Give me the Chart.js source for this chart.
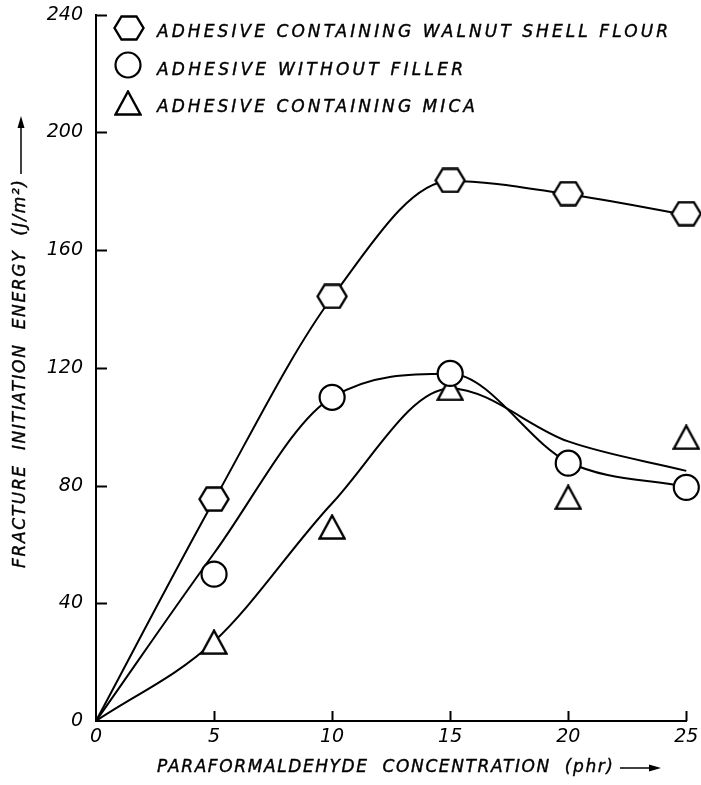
<!DOCTYPE html>
<html>
<head>
<meta charset="utf-8">
<script src="https://cdn.jsdelivr.net/npm/chart.js@4.4.0/dist/chart.umd.min.js"></script>
<style>
  html, body { margin: 0; padding: 0; background: #fff; }
</style>
</head>
<body>
<canvas id="chart" width="701" height="785"></canvas>
<script>
// measured points (phr vs J/m^2)
const concentration = [5, 10, 15, 20, 25];
const walnutShell = [75.4, 144.3, 183.7, 179.2, 172.4];
const noFiller = [49.9, 110, 118.1, 87.6, 79.4];
const mica = [26.8, 65.9, 113, 76, 96.4];

// hand-drawn fit curves at each concentration
const curveX = [0, 5, 10, 15, 20, 25];
const walnutCurve = [0, 75, 144, 183.5, 179, 172];
const noFillerCurve = [0, 57, 110, 118, 88, 79.5];
const micaCurve = [0, 27, 74, 113, 95, 85];

const xTicks = [0, 5, 10, 15, 20, 25];
const yTicks = [0, 40, 80, 120, 160, 200, 240];
const legendLabels = [
    'ADHESIVE CONTAINING WALNUT SHELL FLOUR',
    'ADHESIVE WITHOUT FILLER',
    'ADHESIVE CONTAINING MICA'
];
const xTitle = 'PARAFORMALDEHYDE  CONCENTRATION  (phr)';
const yTitle = 'FRACTURE  INITIATION  ENERGY  (J/m\u00B2)';

const FONT = '"DejaVu Sans", sans-serif';

const pairs = (xs, ys) => xs.map((x, i) => ({ x: x, y: ys[i] }));

// marker images
function makeHexagon() {
    const c = document.createElement('canvas');
    c.width = 32; c.height = 26;
    const g = c.getContext('2d');
    g.beginPath();
    g.moveTo(1.5, 13);
    g.lineTo(8.5, 1.5);
    g.lineTo(23.5, 1.5);
    g.lineTo(30.5, 13);
    g.lineTo(23.5, 24.5);
    g.lineTo(8.5, 24.5);
    g.closePath();
    g.fillStyle = '#fff';
    g.fill();
    g.lineWidth = 2.4;
    g.strokeStyle = '#000';
    g.stroke();
    return c;
}

function makeTriangle() {
    const c = document.createElement('canvas');
    c.width = 28; c.height = 26;
    const g = c.getContext('2d');
    g.beginPath();
    g.moveTo(14, 1.5);
    g.lineTo(26.5, 24.5);
    g.lineTo(1.5, 24.5);
    g.closePath();
    g.fillStyle = '#fff';
    g.fill();
    g.lineWidth = 2.4;
    g.strokeStyle = '#000';
    g.stroke();
    return c;
}

const hexImg = makeHexagon();
const triImg = makeTriangle();

function curveSet(data) {
    return {
        type: 'scatter',
        data: data,
        showLine: true,
        borderColor: '#000',
        borderWidth: 2,
        pointRadius: 0,
        cubicInterpolationMode: 'monotone',
        fill: false,
        clip: false,
        order: 2
    };
}

function pointSet(label, data, style) {
    return {
        type: 'scatter',
        label: label,
        data: data,
        showLine: false,
        pointStyle: style,
        pointRadius: 12.5,
        pointBackgroundColor: '#fff',
        pointBorderColor: '#000',
        pointBorderWidth: 2.2,
        clip: false,
        order: 1
    };
}

function spacedText(ctx, text, x, y, width) {
    ctx.letterSpacing = '0px';
    const w = ctx.measureText(text).width;
    const sp = (width - w) / (text.length - 1);
    ctx.letterSpacing = sp + 'px';
    ctx.fillText(text, x, y);
    ctx.lineWidth = 0.4;
    ctx.strokeText(text, x, y);
    ctx.letterSpacing = '0px';
}

function arrow(ctx, x0, x1, y) {
    ctx.beginPath();
    ctx.moveTo(x0, y);
    ctx.lineTo(x1 - 8, y);
    ctx.lineWidth = 1.5;
    ctx.stroke();
    ctx.beginPath();
    ctx.moveTo(x1, y);
    ctx.lineTo(x1 - 12, y - 3.5);
    ctx.lineTo(x1 - 12, y + 3.5);
    ctx.closePath();
    ctx.fill();
}

const decorPlugin = {
    id: 'decor',
    afterDraw(chart) {
        const ctx = chart.ctx;
        const xs = chart.scales.x;
        const ys = chart.scales.y;
        ctx.save();
        ctx.strokeStyle = '#000';
        ctx.fillStyle = '#000';
        ctx.lineWidth = 2;

        // inward tick marks
        yTicks.forEach(v => {
            if (v === 0) return;
            const py = Math.round(ys.getPixelForValue(v)) + 0.5;
            ctx.beginPath();
            ctx.moveTo(xs.left, py);
            ctx.lineTo(xs.left + 11, py);
            ctx.stroke();
        });
        xTicks.forEach(v => {
            if (v === 0) return;
            const px = Math.round(xs.getPixelForValue(v)) + 0.5;
            ctx.beginPath();
            ctx.moveTo(px, ys.bottom);
            ctx.lineTo(px, ys.bottom - 10);
            ctx.stroke();
        });

        // axis titles
        ctx.font = 'italic 17px ' + FONT;
        ctx.textBaseline = 'middle';
        ctx.textAlign = 'left';
        spacedText(ctx, xTitle, 157, 768, 456);
        arrow(ctx, 620, 661, 768);

        ctx.save();
        ctx.translate(21, 568);
        ctx.rotate(-Math.PI / 2);
        spacedText(ctx, yTitle, 0, 0, 388);
        arrow(ctx, 394, 452, 0);
        ctx.restore();

        // legend inside the plot
        const legendY = [28, 65, 103];
        const textY = [33, 71, 108];
        const textW = [511, 306, 318];
        ctx.drawImage(hexImg, 129 - 16, legendY[0] - 13);
        ctx.beginPath();
        ctx.arc(128, legendY[1], 12.5, 0, Math.PI * 2);
        ctx.fillStyle = '#fff';
        ctx.fill();
        ctx.lineWidth = 2.2;
        ctx.stroke();
        ctx.drawImage(triImg, 128 - 14, legendY[2] - 13);
        ctx.fillStyle = '#000';
        legendLabels.forEach((t, i) => {
            spacedText(ctx, t, 157, textY[i], textW[i]);
        });
        ctx.restore();
    }
};

const tickFont = { family: FONT, style: 'italic', size: 19 };

new Chart(document.getElementById('chart'), {
    type: 'scatter',
    data: {
        datasets: [
            curveSet(pairs(curveX, walnutCurve)),
            curveSet(pairs(curveX, noFillerCurve)),
            curveSet(pairs(curveX, micaCurve)),
            pointSet(legendLabels[0], pairs(concentration, walnutShell), hexImg),
            pointSet(legendLabels[1], pairs(concentration, noFiller), 'circle'),
            pointSet(legendLabels[2], pairs(concentration, mica), triImg)
        ]
    },
    options: {
        responsive: false,
        animation: false,
        devicePixelRatio: 1,
        layout: { padding: { top: 14, right: 12, left: 0, bottom: 0 } },
        plugins: {
            legend: { display: false },
            tooltip: { enabled: false }
        },
        scales: {
            x: {
                type: 'linear',
                min: 0,
                max: 25,
                afterBuildTicks: s => { s.ticks = xTicks.map(v => ({ value: v })); },
                afterFit: s => { s.height = 64; s.paddingLeft = 0; s.paddingRight = 0; },
                grid: { display: false, drawTicks: false },
                border: { display: true, color: '#000', width: 2 },
                ticks: { color: '#000', font: tickFont, padding: 5, maxRotation: 0 }
            },
            y: {
                type: 'linear',
                min: 0,
                max: 240,
                afterBuildTicks: s => { s.ticks = yTicks.map(v => ({ value: v })); },
                afterFit: s => { s.width = 96; s.paddingTop = 0; s.paddingBottom = 0; },
                grid: { display: false, drawTicks: false },
                border: { display: true, color: '#000', width: 2 },
                ticks: { color: '#000', font: tickFont, padding: 13 }
            }
        }
    },
    plugins: [decorPlugin]
});
</script>
</body>
</html>
